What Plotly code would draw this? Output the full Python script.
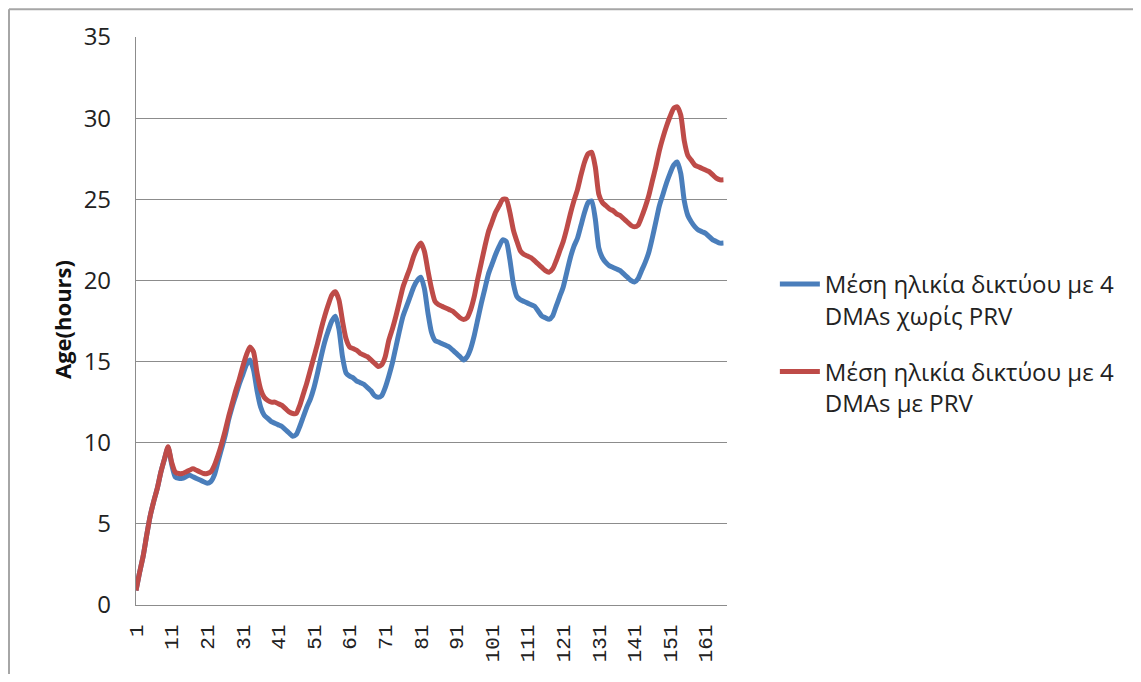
import plotly.graph_objects as go

hours = list(range(1, 167))

age_no_prv = [
    0.9, 2.0, 3.0, 4.3, 5.5, 6.4, 7.2, 8.2, 9.0, 9.7,
    8.7, 7.9, 7.8, 7.8, 7.9, 8.0, 7.9, 7.8, 7.7, 7.6,
    7.5, 7.6, 8.0, 8.8, 9.6, 10.4, 11.4, 12.2, 12.9, 13.6,
    14.2, 14.8, 15.1, 14.5, 13.2, 12.2, 11.7, 11.5, 11.3, 11.2,
    11.1, 11.0, 10.8, 10.6, 10.4, 10.5, 11.0, 11.6, 12.2, 12.7,
    13.4, 14.3, 15.3, 16.2, 16.9, 17.5, 17.8, 17.0, 15.3, 14.3,
    14.1, 14.0, 13.8, 13.7, 13.6, 13.4, 13.2, 12.9, 12.8, 12.9,
    13.4, 14.1, 14.9, 15.9, 16.9, 17.8, 18.4, 19.0, 19.6, 20.0,
    20.2, 19.5, 18.0, 16.8, 16.3, 16.2, 16.1, 16.0, 15.9, 15.7,
    15.5, 15.3, 15.1, 15.3, 15.8, 16.6, 17.6, 18.6, 19.5, 20.4,
    21.0, 21.6, 22.1, 22.5, 22.4, 21.3, 19.8, 19.0, 18.8, 18.7,
    18.6, 18.5, 18.4, 18.1, 17.8, 17.7, 17.6, 17.8, 18.4, 19.0,
    19.6, 20.5, 21.4, 22.1, 22.6, 23.4, 24.2, 24.8, 24.9, 23.8,
    22.0, 21.4, 21.1, 20.9, 20.8, 20.7, 20.6, 20.4, 20.2, 20.0,
    19.9, 20.1, 20.6, 21.1, 21.7, 22.6, 23.6, 24.6, 25.3, 26.0,
    26.6, 27.1, 27.3, 26.6, 24.9, 24.0, 23.6, 23.3, 23.1, 23.0,
    22.9, 22.7, 22.5, 22.4, 22.3, 22.3,
]

age_with_prv = [
    0.9, 2.0, 3.0, 4.3, 5.5, 6.4, 7.2, 8.2, 9.0, 9.75,
    8.8, 8.2, 8.1, 8.1, 8.2, 8.3, 8.4, 8.3, 8.2, 8.1,
    8.1, 8.2, 8.6, 9.2, 9.9, 10.7, 11.6, 12.4, 13.2, 13.9,
    14.7, 15.4, 15.9, 15.6, 14.3, 13.3, 12.8, 12.6, 12.5, 12.5,
    12.4, 12.3, 12.1, 11.9, 11.8, 11.8, 12.3, 13.0, 13.7, 14.5,
    15.3, 16.1, 17.0, 17.8, 18.5, 19.1, 19.3, 18.8, 17.5, 16.4,
    15.9, 15.8, 15.7, 15.5, 15.4, 15.3, 15.1, 14.9, 14.7, 14.8,
    15.3, 16.3, 17.0, 17.8, 18.7, 19.6, 20.2, 20.8, 21.5, 22.0,
    22.3, 21.8, 20.6, 19.5, 18.7, 18.5, 18.4, 18.3, 18.2, 18.1,
    17.9, 17.7, 17.6, 17.7, 18.2, 19.0, 20.1, 21.1, 22.1, 23.0,
    23.6, 24.2, 24.6, 25.0, 25.0, 24.2, 23.1, 22.4, 21.8, 21.6,
    21.5, 21.4, 21.2, 21.0, 20.8, 20.6, 20.5, 20.7, 21.2, 21.8,
    22.4, 23.2, 24.1, 24.9, 25.6, 26.5, 27.3, 27.8, 27.9, 27.0,
    25.3, 24.8, 24.6, 24.4, 24.3, 24.1, 24.0, 23.8, 23.6, 23.4,
    23.3, 23.4, 23.9, 24.5, 25.2, 26.1, 27.0, 28.0, 28.8, 29.5,
    30.1, 30.6, 30.7, 30.2, 28.6, 27.7, 27.4, 27.1, 27.0, 26.9,
    26.8, 26.7, 26.5, 26.3, 26.2, 26.2,
]

x_tick_vals = list(range(1, 167, 10))
x_tick_text = [str(v) for v in x_tick_vals]
y_tick_vals = [0, 5, 10, 15, 20, 25, 30, 35]

series_names = [
    "Μέση ηλικία δικτύου με 4<br>DMAs χωρίς PRV",
    "Μέση ηλικία δικτύου με 4<br>DMAs με PRV",
]

fig = go.Figure()
fig.add_trace(go.Scatter(
    x=hours, y=age_no_prv, mode="lines", name=series_names[0],
    legendgroup="a",
    line=dict(color="#4A7EBB", width=5, shape="spline", smoothing=0.6),
))
fig.add_trace(go.Scatter(
    x=hours, y=age_with_prv, mode="lines", name=series_names[1],
    legendgroup="b",
    line=dict(color="#BE4B48", width=5, shape="spline", smoothing=0.6),
))

fig.update_layout(
    width=1125, height=666,
    margin=dict(l=128, r=406, t=29, b=69, autoexpand=False),
    paper_bgcolor="white", plot_bgcolor="white",
    font=dict(family="Open Sans", size=19, color="#222222"),
    showlegend=True,
    legend=dict(
        x=1.081, y=0.604, xanchor="left", yanchor="top",
        font=dict(family="Open Sans", size=24, color="#222222"),
        valign="top", tracegroupgap=22, bgcolor="rgba(0,0,0,0)",
        itemwidth=40,
    ),
    xaxis=dict(
        range=[1, 167], tickmode="array", tickvals=x_tick_vals,
        ticktext=x_tick_text, tickangle=-90,
        showgrid=False, zeroline=False,
        showline=True, linecolor="#8c8c8c", linewidth=1.2,
        ticks="outside", ticklen=10, tickcolor="rgba(0,0,0,0)",
        tickfont=dict(family="Liberation Mono", size=21, color="#222222"),
    ),
    yaxis=dict(
        range=[0, 35], tickmode="array", tickvals=y_tick_vals,
        showgrid=True, gridcolor="#8c8c8c", gridwidth=1.2,
        zeroline=False, showline=True, linecolor="#8c8c8c", linewidth=1.2,
        ticks="outside", ticklen=19, tickcolor="rgba(0,0,0,0)",
        tickfont=dict(family="Open Sans", size=24, color="#222222"),
    ),
    annotations=[dict(
        text="<b>Age(hours)</b>", textangle=-90,
        xref="paper", yref="paper", x=-0.125, y=0.502,
        xanchor="center", yanchor="middle", showarrow=False,
        font=dict(family="Open Sans", size=22, color="#111111"),
    )],
    shapes=[
        dict(type="line", xref="paper", yref="paper",
             x0=-0.2149, x1=-0.2149, y0=-0.2, y1=1.049,
             line=dict(color="#a6a6a6", width=2), layer="below"),
        dict(type="line", xref="paper", yref="paper",
             x0=-0.2149, x1=1.75, y0=1.049, y1=1.049,
             line=dict(color="#a6a6a6", width=2), layer="below"),
    ],
)

fig.write_html("out.html")
